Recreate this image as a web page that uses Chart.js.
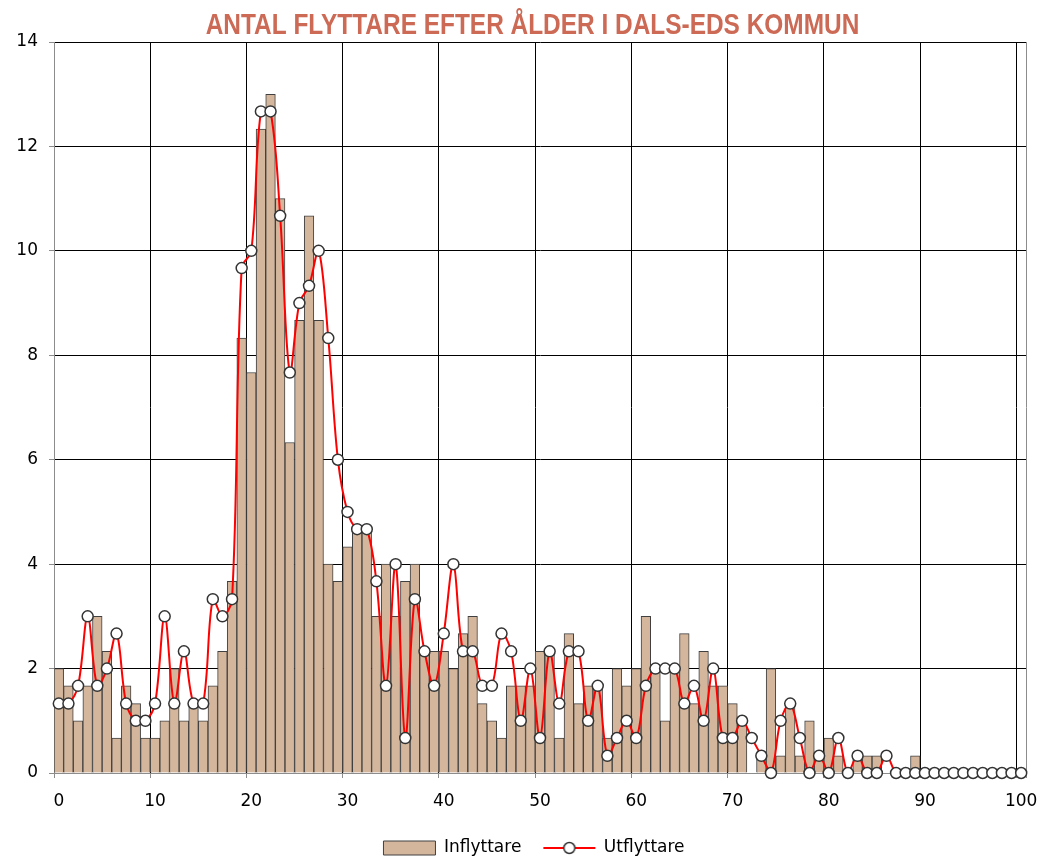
<!DOCTYPE html>
<html>
<head>
<meta charset="utf-8">
<script src="https://cdn.jsdelivr.net/npm/chart.js@4"></script>
<style>
html,body{margin:0;padding:0;background:#fff;overflow:hidden}
#wrap{width:1042px;height:858px;position:relative}
</style>
</head>
<body>
<div id="wrap"><canvas id="c" width="1042" height="858"></canvas></div>
<script>
// ---- data ----
const ageLabels = [0,1,2,3,4,5,6,7,8,9,10,11,12,13,14,15,16,17,18,19,20,21,22,23,24,25,26,27,28,29,30,31,32,33,34,35,36,37,38,39,40,41,42,43,44,45,46,47,48,49,50,51,52,53,54,55,56,57,58,59,60,61,62,63,64,65,66,67,68,69,70,71,72,73,74,75,76,77,78,79,80,81,82,83,84,85,86,87,88,89,90,91,92,93,94,95,96,97,98,99,100];

const inflyttare = [
  2.00, 1.67, 1.00, 1.67, 3.00, 2.33, 0.67, 1.67, 1.33, 0.67,
  0.67, 1.00, 2.00, 1.00, 1.33, 1.00, 1.67, 2.33, 3.67, 8.33,
  7.67, 12.33, 13.00, 11.00, 6.33, 8.67, 10.67, 8.67, 4.00, 3.67,
  4.33, 4.67, 4.67, 3.00, 4.00, 3.00, 3.67, 4.00, 2.33, 2.33,
  2.33, 2.00, 2.67, 3.00, 1.33, 1.00, 0.67, 1.67, 1.67, 1.67,
  2.33, 2.33, 0.67, 2.67, 1.33, 1.67, 1.67, 0.67, 2.00, 1.67,
  2.00, 3.00, 2.00, 1.00, 2.00, 2.67, 1.33, 2.33, 1.67, 1.67,
  1.33, 1.00, 0.00, 0.33, 2.00, 0.33, 1.33, 0.33, 1.00, 0.33,
  0.67, 0.33, 0.00, 0.33, 0.33, 0.33, 0.00, 0.00, 0.00, 0.33,
  0, 0, 0, 0, 0, 0, 0, 0, 0, 0, 0
];

const utflyttare = [
  1.33, 1.33, 1.67, 3.00, 1.67, 2.00, 2.67, 1.33, 1.00, 1.00,
  1.33, 3.00, 1.33, 2.33, 1.33, 1.33, 3.33, 3.00, 3.33, 9.67,
  10.00, 12.67, 12.67, 10.67, 7.67, 9.00, 9.33, 10.00, 8.33, 6.00,
  5.00, 4.67, 4.67, 3.67, 1.67, 4.00, 0.67, 3.33, 2.33, 1.67,
  2.67, 4.00, 2.33, 2.33, 1.67, 1.67, 2.67, 2.33, 1.00, 2.00,
  0.67, 2.33, 1.33, 2.33, 2.33, 1.00, 1.67, 0.33, 0.67, 1.00,
  0.67, 1.67, 2.00, 2.00, 2.00, 1.33, 1.67, 1.00, 2.00, 0.67,
  0.67, 1.00, 0.67, 0.33, 0.00, 1.00, 1.33, 0.67, 0.00, 0.33,
  0.00, 0.67, 0.00, 0.33, 0.00, 0.00, 0.33, 0.00, 0.00, 0.00,
  0, 0, 0, 0, 0, 0, 0, 0, 0, 0, 0
];

const yMin = 0, yMax = 14, yStep = 2;
const titleText = 'ANTAL FLYTTARE EFTER ÅLDER I DALS-EDS KOMMUN';
const seriesNames = ['Inflyttare', 'Utflyttare'];

// ---- styles ----
const BAR_FILL = '#D3B69C';
const BAR_EDGE = '#404040';
const LINE_RED = '#FF0000';
const AXIS_GREY = '#8C8C8C';
const TITLE_RED = '#CC6A55';

Chart.defaults.font.family = "'DejaVu Sans', sans-serif";
Chart.defaults.font.size = 17;
Chart.defaults.color = '#000';

function lineLegendIcon() {
  const c = document.createElement('canvas');
  c.width = 54; c.height = 16;
  const g = c.getContext('2d');
  g.strokeStyle = LINE_RED; g.lineWidth = 2;
  g.beginPath(); g.moveTo(1, 8); g.lineTo(53, 8); g.stroke();
  g.beginPath(); g.arc(27, 8, 5.5, 0, Math.PI * 2);
  g.fillStyle = '#fff'; g.fill();
  g.strokeStyle = '#333'; g.lineWidth = 1.5; g.stroke();
  return c;
}
const lineIcon = lineLegendIcon();

// narrow bold title (Arial-Narrow look: Liberation Sans Bold condensed horizontally)
const narrowTitle = {
  id: 'narrowTitle',
  afterDraw(chart) {
    const ctx = chart.ctx;
    ctx.save();
    ctx.font = "bold 29.5px 'Liberation Sans', Arial, sans-serif";
    ctx.fillStyle = TITLE_RED;
    ctx.textAlign = 'center';
    ctx.textBaseline = 'middle';
    ctx.translate(532.5, 26);
    ctx.scale(0.828, 1);
    ctx.fillText(titleText, 0, 0);
    ctx.restore();
  }
};

const shiftPlugin = {
  id: 'shiftBoxes',
  afterLayout(chart) {
    const l = chart.legend;
    if (l) { l.top += 8.5; l.bottom += 8.5; l.left += 21; l.right += 21; }
  }
};

new Chart(document.getElementById('c'), {
  type: 'bar',
  data: {
    labels: ageLabels,
    datasets: [
      {
        type: 'bar',
        label: seriesNames[0],
        data: inflyttare,
        backgroundColor: BAR_FILL,
        borderColor: BAR_EDGE,
        borderWidth: 1,
        barPercentage: 1,
        categoryPercentage: 1,
        order: 2
      },
      {
        type: 'line',
        label: seriesNames[1],
        data: utflyttare,
        borderColor: LINE_RED,
        borderWidth: 2,
        tension: 0.35,
        pointRadius: 5.5,
        pointBorderWidth: 1.5,
        pointBorderColor: '#333',
        pointBackgroundColor: '#fff',
        clip: false,
        order: 1
      }
    ]
  },
  options: {
    responsive: false,
    animation: false,
    devicePixelRatio: 1,
    layout: { padding: { left: 0, right: 16, top: 42, bottom: 0 } },
    plugins: {
      title: { display: false },
      legend: {
        position: 'bottom',
        labels: {
          usePointStyle: true,
          pointStyleWidth: 52,
          boxWidth: 52,
          boxHeight: 14,
          padding: 22,
          color: '#000',
          font: { size: 17 },
          sort: (a, b) => a.datasetIndex - b.datasetIndex,
          generateLabels(chart) {
            const items = Chart.defaults.plugins.legend.labels.generateLabels(chart);
            items.forEach(it => {
              if (it.datasetIndex === 0) {
                it.pointStyle = 'rect';
                it.fillStyle = BAR_FILL;
                it.strokeStyle = BAR_EDGE;
                it.lineWidth = 1;
              } else {
                it.pointStyle = lineIcon;
              }
            });
            return items;
          }
        }
      },
      tooltip: { enabled: false }
    },
    scales: {
      x: {
        type: 'category',
        offset: true,
        grid: {
          offset: true,
          lineWidth: 1,
          color: c => {
            if (c.type !== 'tick') return AXIS_GREY;
            if (c.index === 0) return AXIS_GREY;
            return c.index % 10 === 0 ? '#000' : 'rgba(0,0,0,0)';
          },
          tickColor: c => {
            if (c.type !== 'tick') return AXIS_GREY;
            return c.index % 10 === 0 ? AXIS_GREY : 'rgba(0,0,0,0)';
          },
          tickLength: 5
        },
        border: { color: AXIS_GREY, width: 1 },
        ticks: {
          autoSkip: false,
          maxRotation: 0,
          minRotation: 0,
          padding: 13,
          color: '#000',
          callback: (v, i) => (i % 10 === 0 ? String(ageLabels[i]) : '')
        },
        afterFit(s) { s.height = 36; s.paddingRight = 0; s.paddingLeft = 0; }
      },
      y: {
        min: yMin,
        max: yMax,
        ticks: { stepSize: yStep, padding: 11, color: '#000' },
        grid: {
          lineWidth: 1,
          color: c => (c.type === 'tick' && c.tick && c.tick.value === 0 ? AXIS_GREY : '#000'),
          tickColor: AXIS_GREY,
          tickLength: 5
        },
        border: { color: AXIS_GREY, width: 1 },
        afterFit(s) { s.width = 54; }
      }
    }
  },
  plugins: [narrowTitle, shiftPlugin]
});
</script>
</body>
</html>
